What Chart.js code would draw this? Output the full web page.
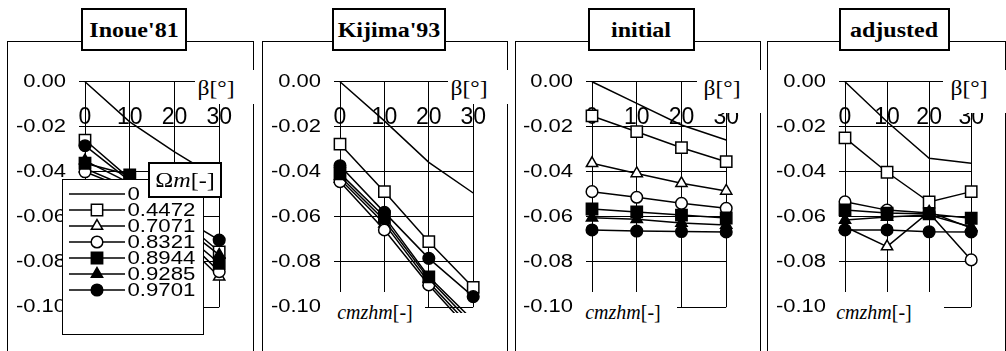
<!DOCTYPE html>
<html><head><meta charset="utf-8">
<script src="https://cdn.jsdelivr.net/npm/chart.js@4/dist/chart.umd.min.js"></script>
<style>
html,body{margin:0;padding:0;background:#fff;}
#wrap{position:relative;width:1006px;height:351px;overflow:hidden;background:#fff;}
.frame{position:absolute;top:41px;height:400px;border:1px solid #000;box-sizing:border-box;}
canvas{position:absolute;top:0;}
.box{position:absolute;background:#fff;box-sizing:border-box;}
.title{border:2px solid #000;top:8px;height:43px;}
.txt{position:absolute;white-space:nowrap;line-height:1;transform:translate(-50%,-50%) scaleX(var(--sx,1));color:#000;}
.serif{font-family:"Liberation Serif","Times New Roman",serif;}
</style>
</head><body>
<div id="wrap"></div>
<script>
// ---------- data ----------
const betas = [0, 10, 20, 30];
const xTickLabels = ['0', '10', '20', '30'];
const yTicks = [-0.10, -0.08, -0.06, -0.04, -0.02, 0.00];
const yTickLabels = ['-0.10', '-0.08', '-0.06', '-0.04', '-0.02', '0.00'];
const seriesNames = ['0', '0.4472', '0.7071', '0.8321', '0.8944', '0.9285', '0.9701'];
const panelTitles = ["Inoue'81", "Kijima'93", "initial", "adjusted"];

const inoue = [
  [0, -0.0178, -0.0311, -0.0432],
  [-0.0259, -0.0430, -0.0585, -0.0755],
  [-0.0385, -0.0470, -0.0671, -0.0866],
  [-0.0400, -0.0480, -0.0648, -0.0843],
  [-0.0362, -0.0414, -0.0638, -0.0806],
  [-0.0350, -0.0450, -0.0613, -0.0769],
  [-0.0284, -0.0440, -0.0585, -0.0703]
];
const kijima = [
  [0, -0.0174, -0.0358, -0.0494],
  [-0.0277, -0.0488, -0.0710, -0.0913],
  [-0.0432, -0.0630, -0.0890, -0.1100],
  [-0.0444, -0.0658, -0.0902, -0.1120],
  [-0.0407, -0.0599, -0.0866, -0.1060],
  [-0.0420, -0.0615, -0.0875, -0.1080],
  [-0.0373, -0.0580, -0.0784, -0.0954]
];
const initial = [
  [0, -0.0096, -0.0192, -0.0259],
  [-0.0152, -0.0222, -0.0293, -0.0355],
  [-0.0362, -0.0407, -0.0451, -0.0485],
  [-0.0488, -0.0513, -0.0540, -0.0562],
  [-0.0565, -0.0578, -0.0592, -0.0605],
  [-0.0604, -0.0610, -0.0627, -0.0636],
  [-0.0658, -0.0663, -0.0665, -0.0667]
];
const adjusted = [
  [0, -0.0178, -0.0340, -0.0362],
  [-0.0249, -0.0402, -0.0534, -0.0488],
  [-0.0644, -0.0732, -0.0578, -0.0650],
  [-0.0533, -0.0570, -0.0583, -0.0791],
  [-0.0569, -0.0583, -0.0587, -0.0606],
  [-0.0614, -0.0600, -0.0592, -0.0645],
  [-0.0658, -0.0658, -0.0666, -0.0667]
];

// ---------- styles ----------
const pStyles = ['circle', 'rect', 'triangle', 'circle', 'rect', 'triangle', 'circle'];
const pFills = ['#000', '#fff', '#fff', '#fff', '#000', '#000', '#000'];
const pRadii = [0, 8, 6.5, 5.8, 8, 6.5, 5.8];

// horizontally widened text, keyed by font size
const SX = {'18': 1.22, '23': 1.0, '18.5': 1.2, '22': 1.1};
const protoFill = CanvasRenderingContext2D.prototype.fillText;
function stretchText(ctx) {
  ctx.fillText = function (t, x, y) {
    const m = /(\d+(?:\.\d+)?)px/.exec(this.font);
    const s = m && SX[m[1]] ? SX[m[1]] : 1;
    if (s === 1) { protoFill.call(this, t, x, y); return; }
    this.save(); this.translate(x, y); this.scale(s, 1);
    protoFill.call(this, t, 0, 0); this.restore();
  };
}

function drawMarker(ctx, style, r, x, y) {
  if (Chart.helpers && Chart.helpers.drawPoint) {
    Chart.helpers.drawPoint(ctx, {pointStyle: style, radius: r, rotation: 0, borderWidth: 1.5}, x, y);
    return;
  }
  ctx.beginPath();
  if (style === 'rect') { const s = r * Math.SQRT1_2; ctx.rect(x - s, y - s, 2 * s, 2 * s); }
  else if (style === 'triangle') {
    for (let k = 0; k < 3; k++) { const a = k * 2 * Math.PI / 3; const px = x + Math.sin(a) * r, py = y - Math.cos(a) * r; k ? ctx.lineTo(px, py) : ctx.moveTo(px, py); }
    ctx.closePath();
  } else ctx.arc(x, y, r, 0, Math.PI * 2);
  ctx.fill(); ctx.stroke();
}

const legendPlugin = {
  id: 'omegaLegend',
  afterDraw(chart, args, opts) {
    if (!opts || !opts.show) return;
    const ctx = chart.ctx, ox = opts.ox;
    ctx.save();
    ctx.fillStyle = '#fff'; ctx.strokeStyle = '#000'; ctx.lineWidth = 1;
    ctx.fillRect(62 - ox, 179, 142, 160);
    ctx.strokeRect(62.5 - ox, 179.5, 141, 155);
    ctx.lineWidth = 2;
    ctx.fillRect(148 - ox, 162, 74, 36);
    ctx.strokeRect(149 - ox, 163, 72, 34);
    // header text  Ω m [-]
    ctx.fillStyle = '#000'; ctx.textBaseline = 'middle'; ctx.textAlign = 'left';
    const parts = [['Ω', '22px "Liberation Serif"'], ['m', 'italic 22px "Liberation Serif"'], ['[-]', '22px "Liberation Serif"']];
    let tw = 0;
    parts.forEach(p => { ctx.font = p[1]; tw += ctx.measureText(p[0]).width * SX['22']; });
    let cx = 185 - ox - tw / 2;
    parts.forEach(p => { ctx.font = p[1]; ctx.fillText(p[0], cx, 181); cx += ctx.measureText(p[0]).width * SX['22']; });
    // rows
    chart.data.datasets.forEach((ds, i) => {
      const y = 194 + 16 * i;
      ctx.strokeStyle = '#000'; ctx.lineWidth = 1.5;
      ctx.beginPath(); ctx.moveTo(69 - ox, y); ctx.lineTo(125 - ox, y); ctx.stroke();
      if (pRadii[i] > 0) {
        ctx.fillStyle = pFills[i]; ctx.strokeStyle = '#000'; ctx.lineWidth = 1.5;
        drawMarker(ctx, pStyles[i], pRadii[i], 97 - ox, y);
      }
      ctx.fillStyle = '#000'; ctx.font = '18.5px "Liberation Sans"';
      ctx.textBaseline = 'middle'; ctx.textAlign = 'left';
      ctx.fillText(ds.label, 127.5 - ox, y + 1);
    });
    ctx.restore();
  }
};

const panels = [
  {L: 7,   W: 247, x0: 85,  x30: 235,   data: inoue,    title: panelTitles[0], tW: 106, bOff: 40, bCx: 19, bBot: 104, cz: null, legend: true},
  {L: 262, W: 246, x0: 340, x30: 490,   data: kijima,   title: panelTitles[1], tW: 114, bOff: 42, bCx: 21, bBot: 104, cz: {right: 85, cx: 35}},
  {L: 515, W: 246, x0: 592, x30: 741.5, data: initial,  title: panelTitles[2], tW: 107, bOff: 45, bCx: 20, bBot: 113, cz: {right: 85, cx: 31}},
  {L: 767, W: 239, x0: 845, x30: 994,   data: adjusted, title: panelTitles[3], tW: 111, bOff: 51, bCx: 25, bBot: 113, cz: {right: 99, cx: 29}}
];

const wrap = document.getElementById('wrap');
function el(tag, cls, style, parent) {
  const e = document.createElement(tag);
  if (cls) e.className = cls;
  Object.assign(e.style, style || {});
  (parent || wrap).appendChild(e);
  return e;
}

panels.forEach((P, pi) => {
  el('div', 'frame', {left: P.L + 'px', width: P.W + 'px'});
  const cv = el('canvas', '', {left: P.L + 'px', width: P.W + 'px', height: '351px'});
  cv.width = P.W; cv.height = 351;
  const ctx = cv.getContext('2d');
  stretchText(ctx);

  const datasets = seriesNames.map((name, i) => ({
    label: name,
    data: betas.map((b, j) => ({x: b, y: P.data[i][j]})),
    borderColor: '#000', borderWidth: 1.5,
    pointStyle: pStyles[i], pointRadius: pRadii[i], pointHoverRadius: pRadii[i],
    pointBackgroundColor: pFills[i], pointBorderColor: '#000', pointBorderWidth: 1.5,
    tension: 0, fill: false,
    order: seriesNames.length - i,
    clip: {left: 10, top: 10, right: 10, bottom: 6}
  }));

  new Chart(ctx, {
    type: 'line',
    data: {datasets},
    options: {
      responsive: false, animation: false, devicePixelRatio: 1,
      events: [],
      layout: {padding: {left: 0, right: P.L + P.W - P.x30, top: 81.7, bottom: 44}},
      plugins: {legend: {display: false}, tooltip: {enabled: false},
                omegaLegend: {show: !!P.legend, ox: P.L}},
      scales: {
        x: {
          type: 'linear', position: 'top', min: 0, max: 30,
          afterBuildTicks: s => { s.ticks = betas.map(v => ({value: v})); },
          afterFit: s => { s.height = 0; },
          border: {display: false},
          grid: {color: '#000', lineWidth: 1, drawTicks: false},
          ticks: {mirror: true, padding: 22, color: '#000', autoSkip: false, maxRotation: 0, minRotation: 0,
                  font: {family: '"Liberation Sans", Arial, sans-serif', size: 23},
                  callback: (v, i) => xTickLabels[i]}
        },
        y: {
          type: 'linear', min: -0.1, max: 0,
          afterBuildTicks: s => { s.ticks = yTicks.map(v => ({value: v})); },
          afterFit: s => { s.width = P.x0 - P.L; },
          border: {display: false},
          grid: {color: '#000', lineWidth: 1, drawTicks: true, tickLength: 6},
          ticks: {padding: 13, color: '#000', autoSkip: false,
                  font: {family: '"Liberation Sans", Arial, sans-serif', size: 18},
                  callback: (v, i) => yTickLabels[i]}
        }
      }
    },
    plugins: [legendPlugin]
  });

  // title box
  const tcx = P.x0 + 49;
  const tb = el('div', 'box title', {left: (tcx - P.tW / 2) + 'px', width: P.tW + 'px'});
  const tt = el('span', 'txt serif', {left: '50%', top: '50%', fontWeight: 'bold', fontSize: '20px'}, tb);
  tt.style.setProperty('--sx', '1.2');
  tt.textContent = P.title;

  // beta label
  const bl = P.x30 - P.bOff;
  const bb = el('div', 'box', {left: bl + 'px', top: '70px', width: (P.bOff + 20) + 'px', height: (P.bBot - 70) + 'px'});
  const bt = el('span', 'txt serif', {left: (P.bOff - P.bCx) + 'px', top: '18px', fontSize: '21px'}, bb);
  bt.style.setProperty('--sx', '1.12');
  bt.textContent = 'β[°]';

  // cmzhm label
  if (P.cz) {
    const zl = P.x0 - 16;
    const zb = el('div', 'box', {left: zl + 'px', top: '292px', width: (P.cz.right + 16) + 'px', height: '45px'});
    const zt = el('span', 'txt serif', {left: (P.cz.cx + 16) + 'px', top: '20px', fontSize: '20px'}, zb);
    const it = document.createElement('i'); it.textContent = 'cmzhm';
    zt.appendChild(it); zt.appendChild(document.createTextNode('[-]'));
  }
});
</script>
</body></html>
